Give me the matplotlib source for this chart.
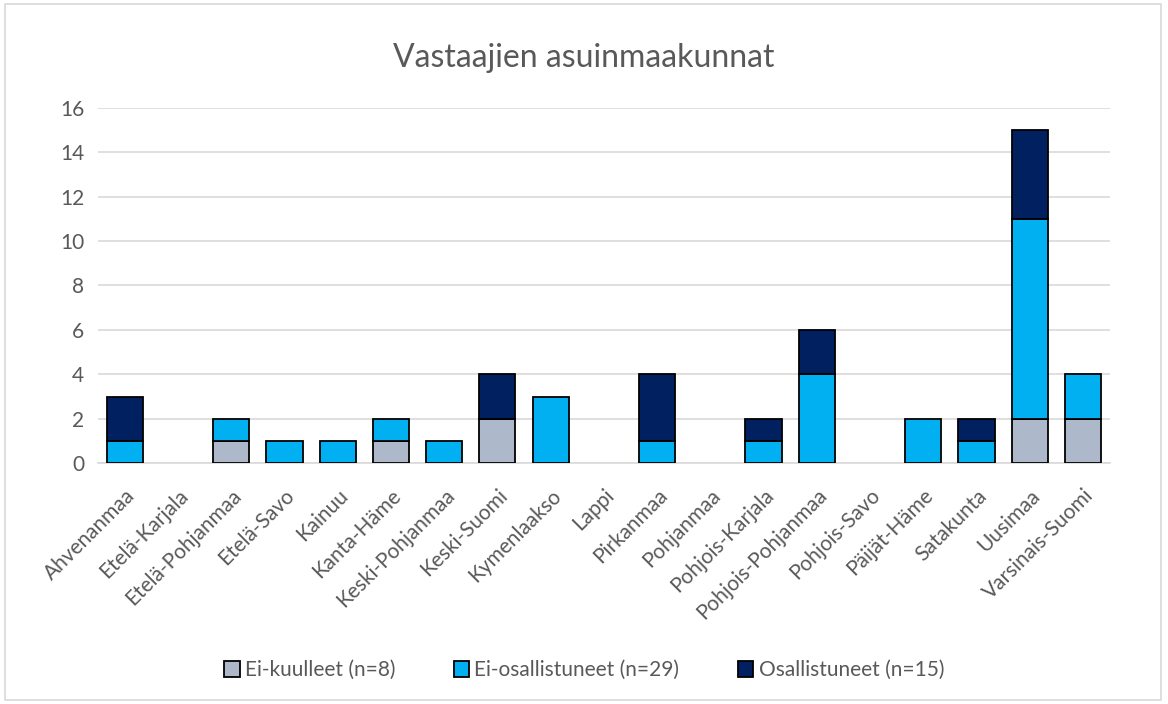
import numpy as np
import matplotlib.pyplot as plt
from matplotlib.patches import Rectangle

maakunnat = ['Ahvenanmaa', 'Etelä-Karjala', 'Etelä-Pohjanmaa', 'Etelä-Savo', 'Kainuu',
             'Kanta-Häme', 'Keski-Pohjanmaa', 'Keski-Suomi', 'Kymenlaakso', 'Lappi',
             'Pirkanmaa', 'Pohjanmaa', 'Pohjois-Karjala', 'Pohjois-Pohjanmaa', 'Pohjois-Savo',
             'Päijät-Häme', 'Satakunta', 'Uusimaa', 'Varsinais-Suomi']
ei_kuulleet = [0, 0, 1, 0, 0, 1, 0, 2, 0, 0, 0, 0, 0, 0, 0, 0, 0, 2, 2]
ei_osallistuneet = [1, 0, 1, 1, 1, 1, 1, 0, 3, 0, 1, 0, 1, 4, 0, 2, 1, 9, 2]
osallistuneet = [2, 0, 0, 0, 0, 0, 0, 2, 0, 0, 3, 0, 1, 2, 0, 0, 1, 4, 0]

plt.rcParams['font.family'] = ['Lato', 'DejaVu Sans']
harmaa = '#595959'

fig = plt.figure(figsize=(11.68, 7.04), dpi=100)
ax = fig.add_axes([0.084, 0.342, 0.866, 0.505])

x = np.arange(len(maakunnat))
a = np.array(ei_kuulleet)
b = np.array(ei_osallistuneet)
c = np.array(osallistuneet)
leveys = 0.68

sarjat = [(a, 0, '#ADB9CA', 'Ei-kuulleet (n=8)'),
          (b, a, '#00B0F0', 'Ei-osallistuneet (n=29)'),
          (c, a + b, '#002060', 'Osallistuneet (n=15)')]
for arvot, pohja, vari, nimi in sarjat:
    pohja = np.broadcast_to(pohja, arvot.shape)
    m = arvot > 0  # nollapalkkeja ei piirretä
    ax.bar(x[m], arvot[m], leveys, bottom=pohja[m], color=vari, edgecolor='black',
           linewidth=1.3, label=nimi, zorder=3)

ax.set_xlim(-0.5, len(maakunnat) - 0.5)
ax.set_ylim(0, 16)
ax.set_yticks(range(0, 17, 2))
ax.set_xticks(x)
ax.set_xticklabels(maakunnat, rotation=45, ha='right', rotation_mode='anchor')
ax.tick_params(axis='both', length=0, labelsize=15, colors=harmaa)
ax.tick_params(axis='x', pad=16)
ax.tick_params(axis='y', pad=10)
ax.grid(axis='y', color='#D9D9D9', linewidth=1.2, zorder=0)
for s in ['top', 'right', 'left']:
    ax.spines[s].set_visible(False)
ax.spines['bottom'].set_color('#D9D9D9')
ax.spines['bottom'].set_linewidth(1.2)

fig.text(0.5, 0.918, 'Vastaajien asuinmaakunnat', ha='center', va='center',
         fontsize=23, color=harmaa)

fig.legend(loc='center', bbox_to_anchor=(0.5, 0.048), ncol=3, frameon=False,
           fontsize=15, labelcolor=harmaa, handlelength=0.75, handleheight=0.75,
           handletextpad=0.25, columnspacing=2.8)

fig.patches.append(Rectangle((0.004, 0.006), 0.99, 0.988, transform=fig.transFigure,
                             fill=False, edgecolor='#D9D9D9', linewidth=1.2))

fig.savefig('out.png', dpi=100)
